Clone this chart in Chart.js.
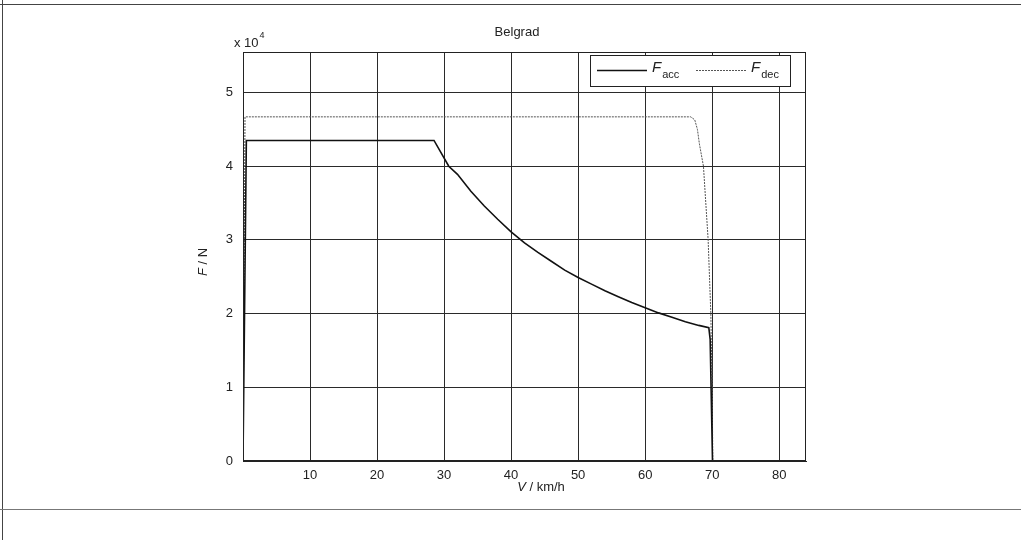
<!DOCTYPE html>
<html>
<head>
<meta charset="utf-8">
<script src="https://cdn.jsdelivr.net/npm/chart.js@4.4.1/dist/chart.umd.min.js"></script>
<style>
  html, body { margin: 0; padding: 0; background: #fff; }
  #wrap { position: relative; width: 1021px; height: 540px; overflow: hidden; }
  canvas { position: absolute; left: 0; top: 0; }
  .frame { position: absolute; background: #444; }
</style>
</head>
<body>
<div id="wrap">
  <canvas id="c" width="1021" height="540"></canvas>
  <div class="frame" style="left:0;top:4px;width:1021px;height:1px;"></div>
  <div class="frame" style="left:2px;top:0;width:1px;height:540px;"></div>
  <div class="frame" style="left:0;top:509px;width:1021px;height:1px;background:#777;"></div>
</div>
<script>
// ---- data (speed in km/h, force in N) ----
const title = "Belgrad";
const accV = [0, 0.5, 28.5, 30.7, 32, 34, 36, 38, 40, 42, 44, 46, 48, 50, 52, 54, 56, 58, 60, 62, 64, 66, 68, 69.5, 69.7, 70.05];
const accF = [0, 43500, 43500, 40000, 38900, 36600, 34600, 32800, 31100, 29600, 28300, 27100, 25900, 24900, 24000, 23100, 22300, 21500, 20800, 20100, 19500, 18900, 18400, 18100, 16500, 0];
const decV = [0, 0.3, 66.8, 67.4, 67.8, 68.1, 68.7, 69.4, 69.8, 70.0, 70.1];
const decF = [0, 46700, 46700, 46300, 45000, 43000, 40000, 30000, 20000, 10000, 0];
const xTicks = [10, 20, 30, 40, 50, 60, 70, 80];
const yTicks = [0, 10000, 20000, 30000, 40000, 50000];
const seriesNames = ["acc", "dec"];

const toXY = (xs, ys) => xs.map((x, i) => ({ x: x, y: ys[i] }));
const FONT = "'Liberation Sans', Arial, sans-serif";

const extras = {
  id: 'extras',
  afterDraw(chart) {
    const ctx = chart.ctx;
    const a = chart.chartArea;
    ctx.save();
    // frame box
    ctx.strokeStyle = '#222';
    ctx.lineWidth = 1;
    ctx.strokeRect(a.left + 0.5, a.top + 0.5, a.right - a.left - 1, a.bottom - a.top - 1);
    ctx.fillStyle = '#222';
    ctx.textBaseline = 'middle';
    // title
    ctx.font = '13px ' + FONT;
    ctx.textAlign = 'center';
    ctx.fillText(title, 517, 32);
    // x 10^4
    ctx.textAlign = 'left';
    ctx.font = '13px ' + FONT;
    ctx.fillText('x 10', 234, 43);
    const tw = ctx.measureText('x 10').width;
    ctx.font = '9px ' + FONT;
    ctx.fillText('4', 234 + tw + 1, 36);
    // y axis title
    ctx.save();
    ctx.translate(203, 262);
    ctx.rotate(-Math.PI / 2);
    ctx.font = 'italic 13px ' + FONT;
    ctx.textAlign = 'left';
    const w1 = ctx.measureText('F').width;
    ctx.font = '13px ' + FONT;
    const w2 = ctx.measureText(' / N').width;
    let sx = -(w1 + w2) / 2;
    ctx.font = 'italic 13px ' + FONT;
    ctx.fillText('F', sx, 0);
    ctx.font = '13px ' + FONT;
    ctx.fillText(' / N', sx + w1, 0);
    ctx.restore();
    // x axis title
    ctx.font = 'italic 13px ' + FONT;
    const v1 = ctx.measureText('V').width;
    ctx.font = '13px ' + FONT;
    const v2 = ctx.measureText(' / km/h').width;
    let xx = 541 - (v1 + v2) / 2;
    ctx.font = 'italic 13px ' + FONT;
    ctx.fillText('V', xx, 487);
    ctx.font = '13px ' + FONT;
    ctx.fillText(' / km/h', xx + v1, 487);
    // legend
    const lx = 590, ly = 55, lw = 200, lh = 31;
    ctx.fillStyle = '#fff';
    ctx.fillRect(lx, ly, lw, lh);
    ctx.strokeStyle = '#222';
    ctx.strokeRect(lx + 0.5, ly + 0.5, lw, lh);
    const ds = chart.data.datasets;
    const items = [{ x: lx + 7, ds: ds[0], name: seriesNames[0] }, { x: lx + 106, ds: ds[1], name: seriesNames[1] }];
    items.forEach(it => {
      ctx.save();
      ctx.strokeStyle = it.ds.borderColor;
      ctx.lineWidth = it.ds.borderWidth;
      ctx.setLineDash(it.ds.borderDash || []);
      ctx.beginPath();
      ctx.moveTo(it.x, ly + 15.5);
      ctx.lineTo(it.x + 50, ly + 15.5);
      ctx.stroke();
      ctx.restore();
      ctx.fillStyle = '#222';
      ctx.font = 'italic 15px ' + FONT;
      ctx.fillText('F', it.x + 55, ly + 13);
      const fw = ctx.measureText('F').width;
      ctx.font = '11px ' + FONT;
      ctx.fillText(it.name, it.x + 56 + fw, ly + 20);
    });
    ctx.restore();
  }
};

new Chart(document.getElementById('c'), {
  type: 'line',
  data: {
    datasets: [
      { label: 'F_acc', data: toXY(accV, accF), borderColor: '#111', borderWidth: 1.6, pointRadius: 0, tension: 0, fill: false },
      { label: 'F_dec', data: toXY(decV, decF), borderColor: '#555', borderWidth: 1, borderDash: [2, 1], pointRadius: 0, tension: 0, fill: false }
    ]
  },
  options: {
    responsive: false,
    animation: false,
    layout: { padding: { top: 52, right: 215, left: 0, bottom: 0 } },
    plugins: { legend: { display: false }, tooltip: { enabled: false }, title: { display: false } },
    scales: {
      x: {
        type: 'linear', min: 0, max: 84,
        afterBuildTicks: (s) => { s.ticks = xTicks.map(v => ({ value: v })); },
        afterFit: (s) => { s.height = 79; },
        grid: { color: '#2a2a2a', lineWidth: 1, drawTicks: false },
        border: { display: true, color: '#222' },
        ticks: { color: '#222', font: { family: FONT, size: 13 }, padding: 7, maxRotation: 0, callback: v => String(v) }
      },
      y: {
        type: 'linear', min: 0, max: 55500,
        afterBuildTicks: (s) => { s.ticks = yTicks.map(v => ({ value: v })); },
        afterFit: (s) => { s.width = 243; },
        grid: { color: '#2a2a2a', lineWidth: 1, drawTicks: false },
        border: { display: true, color: '#222' },
        ticks: { color: '#222', font: { family: FONT, size: 13 }, padding: 10, callback: v => String(v / 10000) }
      }
    }
  },
  plugins: [extras]
});
</script>
</body>
</html>
